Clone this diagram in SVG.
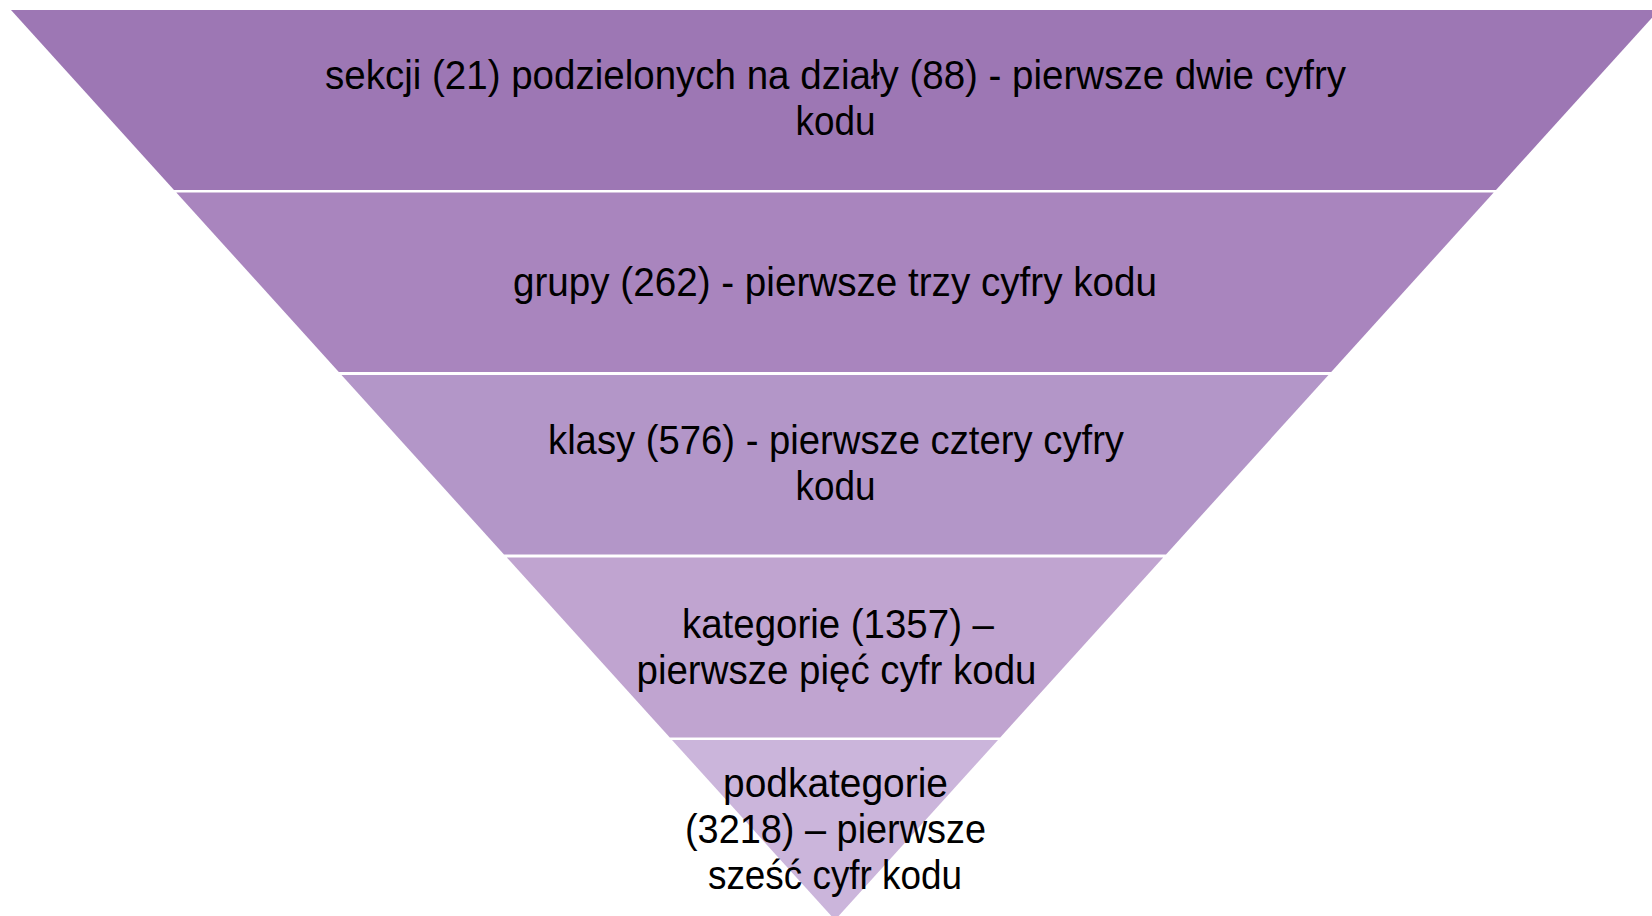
<svg xmlns="http://www.w3.org/2000/svg" width="1652" height="916" viewBox="0 0 1652 916">
<style>
.t{font-family:"Liberation Sans",Arial,sans-serif;font-size:40px;fill:#000;text-anchor:middle}
</style>
<rect width="1652" height="916" fill="#fff"/>
<g id="level1">
<polygon points="11,10 1659,10 1496,190 174,190" fill="#9D77B4"/>
<text class="t" x="835.5" y="89" textLength="1021" lengthAdjust="spacingAndGlyphs">sekcji (21) podzielonych na działy (88) - pierwsze dwie cyfry</text>
<text class="t" x="835.5" y="135" textLength="80" lengthAdjust="spacingAndGlyphs">kodu</text>
</g>
<g id="level2">
<polygon points="176.3,192.5 1493.7,192.5 1331.2,372 338.8,372" fill="#A985BE"/>
<text class="t" x="835" y="296" textLength="644" lengthAdjust="spacingAndGlyphs">grupy (262) - pierwsze trzy cyfry kodu</text>
</g>
<g id="level3">
<polygon points="341.5,375 1328.5,375 1166,554.5 504,554.5" fill="#B396C8"/>
<text class="t" x="836" y="454" textLength="576" lengthAdjust="spacingAndGlyphs">klasy (576) - pierwsze cztery cyfry</text>
<text class="t" x="835.5" y="500" textLength="80" lengthAdjust="spacingAndGlyphs">kodu</text>
</g>
<g id="level4">
<polygon points="506.8,557.5 1163.2,557.5 1000.2,737.5 669.8,737.5" fill="#C0A4D0"/>
<text class="t" x="838" y="638" textLength="312" lengthAdjust="spacingAndGlyphs">kategorie (1357) –</text>
<text class="t" x="836.5" y="684" textLength="400" lengthAdjust="spacingAndGlyphs">pierwsze pięć cyfr kodu</text>
</g>
<g id="level5">
<polygon points="672,740 998,740 835,920" fill="#CBB5DB"/>
<text class="t" x="835.5" y="797" textLength="225" lengthAdjust="spacingAndGlyphs">podkategorie</text>
<text class="t" x="835.5" y="843" textLength="301" lengthAdjust="spacingAndGlyphs">(3218) – pierwsze</text>
<text class="t" x="835" y="889" textLength="254" lengthAdjust="spacingAndGlyphs">sześć cyfr kodu</text>
</g>
<g id="connectors"></g>
</svg>
